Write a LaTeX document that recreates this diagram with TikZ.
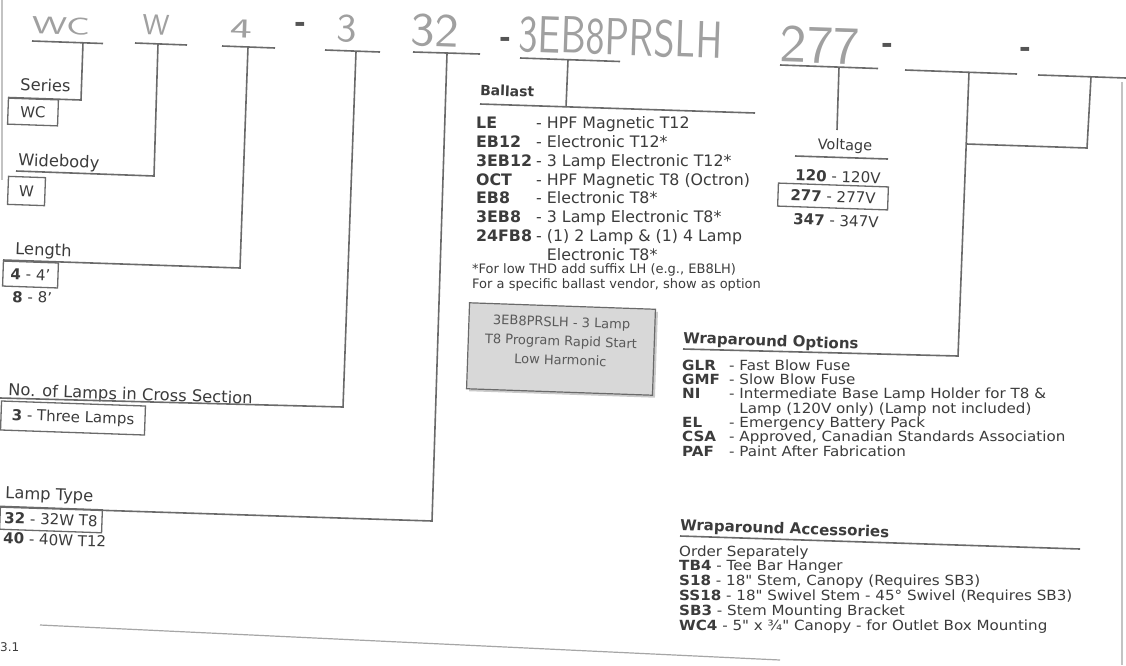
\documentclass[tikz,border=0pt]{standalone}
\usepackage{fontspec}
\setmainfont{DejaVu Sans}
\newfontfamily\listfont[FakeStretch=1.08]{DejaVu Sans}
\usepackage{graphicx}
\usetikzlibrary{shadows}
\definecolor{ln}{HTML}{6A6A6A}
\definecolor{tx}{HTML}{3C3C3C}
\definecolor{hw}{HTML}{A0A0A0}
\definecolor{boxgray}{HTML}{D8D8D8}
\newcommand\cd[1]{\textbf{#1}}
\newcommand\cc[2]{\makebox[#1][l]{\textbf{#2}}}
\tikzset{
  ln/.style={draw=ln, line width=1.6pt},
  faint/.style={draw=ln!60, line width=1.2pt},
  lbl/.style={anchor=base west, inner sep=0pt, text=tx, font=\fontsize{16.3}{18}\selectfont, rotate=-2},
  val/.style={inner sep=0pt, text=tx, font=\fontsize{15}{17}\selectfont, rotate=-2},
  vbox/.style={draw=ln, line width=1.3pt, inner sep=0pt, text=tx, font=\fontsize{15}{17}\selectfont, rotate=-2},
  hdr/.style={inner sep=0pt, text=tx, font=\fontsize{15}{18}\selectfont\bfseries, rotate=-2},
  listblock/.style={anchor=base west, inner sep=0pt, text=tx, align=left},
  hwtext/.style={inner sep=0pt, text=hw, font=\sffamily\fontsize{30}{30}\selectfont, rotate=-2},
  hwdash/.style={inner sep=0pt, text=ln!80!black, font=\fontsize{28}{28}\selectfont\bfseries}
}
\begin{document}
\begin{tikzpicture}[x=1pt,y=-1pt]
\useasboundingbox (0,0) rectangle (1126,665);
\fill[white] (0,0) rectangle (1126,665);

% ---------------- handwritten order code ----------------
\node[hwtext] (hWC) at (61,26) {\resizebox{58pt}{17pt}{WC}};
\node[hwtext] (hW) at (156,25) {\resizebox{27pt}{20pt}{W}};
\node[hwtext] (h4) at (241,29) {\resizebox{22pt}{18pt}{4}};
\node[hwdash] (hd1) at (300,27) {-};
\node[hwtext] (h3) at (347,29) {\resizebox{20pt}{27pt}{3}};
\node[hwtext] (h32) at (435,31) {\resizebox{48pt}{32pt}{32}};
\node[hwdash] (hd2) at (505,42) {-};
\node[hwtext] (hEB) at (621,37) {\resizebox{203pt}{37pt}{3EB8PRSLH}};
\node[hwtext] (h277) at (820,45) {\resizebox{80pt}{36pt}{277}};
\node[hwdash] (hd3) at (887,48) {-};
\node[hwdash] (hd4) at (1025,52) {-};

% underlines of the code fields
\coordinate (u1a) at (32,41);    \coordinate (u1b) at (103,43.5);
\coordinate (u2a) at (135,43);   \coordinate (u2b) at (187,45);
\coordinate (u3a) at (222,46);   \coordinate (u3b) at (275,48);
\coordinate (u4a) at (325,50);   \coordinate (u4b) at (380,52);
\coordinate (u5a) at (413,52);   \coordinate (u5b) at (480,54);
\coordinate (u6a) at (520,58);   \coordinate (u6b) at (620,61.5);
\coordinate (u7a) at (780,65);   \coordinate (u7b) at (878,68.5);
\coordinate (u8a) at (905,70);   \coordinate (u8b) at (1017,74);
\coordinate (u9a) at (1038,75);  \coordinate (u9b) at (1126,78);
\foreach \i in {1,...,9} {\draw[ln] (u\i a) -- (u\i b);}

% ---------------- left column ----------------
\node[lbl] (lSeries) at (20,90.5) {Series};
\node[vbox, minimum width=50pt, minimum height=26pt] (vWC) at (33,112) {WC};
\node[lbl] (lWide) at (18,165.5) {Widebody};
\node[vbox, minimum width=37pt, minimum height=28pt] (vW) at (26.5,191) {W};
\node[lbl] (lLen) at (15,254.5) {Length};
\node[vbox, minimum width=55pt, minimum height=25pt] (v4) at (30.5,274.5) {\cd{4} - 4'};
\node[val, anchor=base west] (v8) at (12,302) {\cd{8} - 8'};
\node[lbl] (lNo) at (8,395.5) {No. of Lamps in Cross Section};
\node[vbox, minimum width=144pt, minimum height=29pt] (v3) at (73,418) {\cd{3} - Three Lamps};
\node[lbl] (lType) at (5,498.5) {Lamp Type};
\node[vbox, minimum width=102pt, minimum height=23pt] (v32) at (51,519.5) {\cd{32} - 32W T8};
\node[val, anchor=base west] (v40) at (3,543.5) {\cd{40} - 40W T12};

% connectors of the left column
\coordinate (sT) at (83,42.5);  \coordinate (sC) at (81,100);  \coordinate (sE) at (8,97.5);
\coordinate (wT) at (158,44);   \coordinate (wC) at (154,176); \coordinate (wE) at (16,171);
\coordinate (lT) at (248,47);   \coordinate (lC) at (240,268); \coordinate (lE) at (3,260);
\coordinate (nT) at (356,51.5); \coordinate (nC) at (343,407); \coordinate (nE) at (0,398);
\coordinate (tT) at (447,53.5); \coordinate (tC) at (432,521); \coordinate (tE) at (0,507);
\draw[ln] (sT) -- (sC) -- (sE);
\draw[ln] (wT) -- (wC) -- (wE);
\draw[ln] (lT) -- (lC) -- (lE);
\draw[ln] (nT) -- (nC) -- (nE);
\draw[ln] (tT) -- (tC) -- (tE);

% ---------------- ballast ----------------
\node[hdr, anchor=west, font=\fontsize{14}{17}\selectfont\bfseries] (hBal) at (480,90) {Ballast};
\coordinate (bT) at (568,60); \coordinate (bC) at (566,107);
\coordinate (bl1) at (480,104); \coordinate (bl2) at (755,113);
\draw[ln] (bl1) -- (bl2);
\draw[ln] (bT) -- (bC);
\node[listblock, font={\fontsize{15.8}{18.9}\selectfont\lineskiplimit=-100pt}] (balList) at (476,260.6)
  {\cc{60pt}{LE}- HPF Magnetic T12\\
   \cc{60pt}{EB12}- Electronic T12*\\
   \cc{60pt}{3EB12}- 3 Lamp Electronic T12*\\
   \cc{60pt}{OCT}- HPF Magnetic T8 (Octron)\\
   \cc{60pt}{EB8}- Electronic T8*\\
   \cc{60pt}{3EB8}- 3 Lamp Electronic T8*\\
   \cc{60pt}{24FB8}- (1) 2 Lamp \& (1) 4 Lamp\\
   \cc{60pt}{}\phantom{- }Electronic T8*};
\node[listblock, font={\fontsize{13}{15}\selectfont\lineskiplimit=-100pt}] (balNote) at (472,288)
  {*For low THD add suffix LH (e.g., EB8LH)\\For a specific ballast vendor, show as option};

% grey box
\node[draw=ln, line width=1.2pt, fill=boxgray, rotate=-2, minimum width=186pt, minimum height=86pt,
      drop shadow={shadow xshift=2.5pt, shadow yshift=-2.5pt, fill=ln!70}] (gbox) at (561,349) {};
\node[text=tx!85, font=\fontsize{13}{19}\selectfont, align=center, rotate=-2, inner sep=0pt] (gtext)
  at ([yshift=8pt]gbox.center) {3EB8PRSLH - 3 Lamp\\T8 Program Rapid Start\\Low Harmonic};

% ---------------- voltage ----------------
\coordinate (vT) at (839,67); \coordinate (vE) at (837,130);
\draw[ln] (vT) -- (vE);
\node[hdr, font=\fontsize{14.5}{17}\selectfont] (hVolt) at (845,146) {Voltage};
\coordinate (vu1) at (795,156); \coordinate (vu2) at (888,159);
\draw[ln] (vu1) -- (vu2);
\node[val, anchor=base west] (v120) at (795,180.5) {\cd{120} - 120V};
\node[vbox, minimum width=110pt, minimum height=23pt] (v277) at (833,196.5) {\cd{277} - 277V};
\node[val, anchor=base west] (v347) at (793,224.5) {\cd{347} - 347V};

% ---------------- wraparound options ----------------
\coordinate (oT) at (969,72); \coordinate (oC) at (958,356); \coordinate (oE) at (683,349);
\coordinate (aT) at (1091,77); \coordinate (aC) at (1087,148); \coordinate (aE) at (966.5,144);
\draw[ln] (oT) -- (oC) -- (oE);
\draw[ln] (aT) -- (aC) -- (aE);
\node[hdr, anchor=west] (hOpt) at (683,339) {Wraparound Options};
\node[listblock, font={\listfont\fontsize{14}{14.33}\selectfont\lineskiplimit=-100pt}] (optList) at (682,456)
  {\cc{47pt}{GLR}- Fast Blow Fuse\\
   \cc{47pt}{GMF}- Slow Blow Fuse\\
   \cc{47pt}{NI}- Intermediate Base Lamp Holder for T8 \&\\
   \cc{47pt}{}\phantom{- }Lamp (120V only) (Lamp not included)\\
   \cc{47pt}{EL}- Emergency Battery Pack\\
   \cc{47pt}{CSA}- Approved, Canadian Standards Association\\
   \cc{47pt}{PAF}- Paint After Fabrication};

% ---------------- wraparound accessories ----------------
\node[hdr, anchor=west] (hAcc) at (680,526) {Wraparound Accessories};
\coordinate (acu1) at (680,536); \coordinate (acu2) at (1080,549);
\draw[ln] (acu1) -- (acu2);
\node[listblock, font={\listfont\fontsize{14}{14.8}\selectfont\lineskiplimit=-100pt}] (accList) at (679,630)
  {Order Separately\\
   \cd{TB4} - Tee Bar Hanger\\
   \cd{S18} - 18" Stem, Canopy (Requires SB3)\\
   \cd{SS18} - 18" Swivel Stem - 45° Swivel (Requires SB3)\\
   \cd{SB3} - Stem Mounting Bracket\\
   \cd{WC4} - 5" x ¾" Canopy - for Outlet Box Mounting};

% ---------------- page edges ----------------
\coordinate (pb1) at (40,625); \coordinate (pb2) at (780,660);
\draw[faint] (pb1) -- (pb2);
\coordinate (pr1) at (1122,82); \coordinate (pr2) at (1122,665);
\draw[faint, draw=ln!40] (pr1) -- (pr2);
\coordinate (pl1) at (2,0); \coordinate (pl2) at (2,180);
\draw[faint, draw=ln!40] (pl1) -- (pl2);
\node[anchor=west, inner sep=0pt, text=tx, font=\fontsize{12}{14}\selectfont] (pgno) at (0,647) {3.1};
\end{tikzpicture}
\end{document}
